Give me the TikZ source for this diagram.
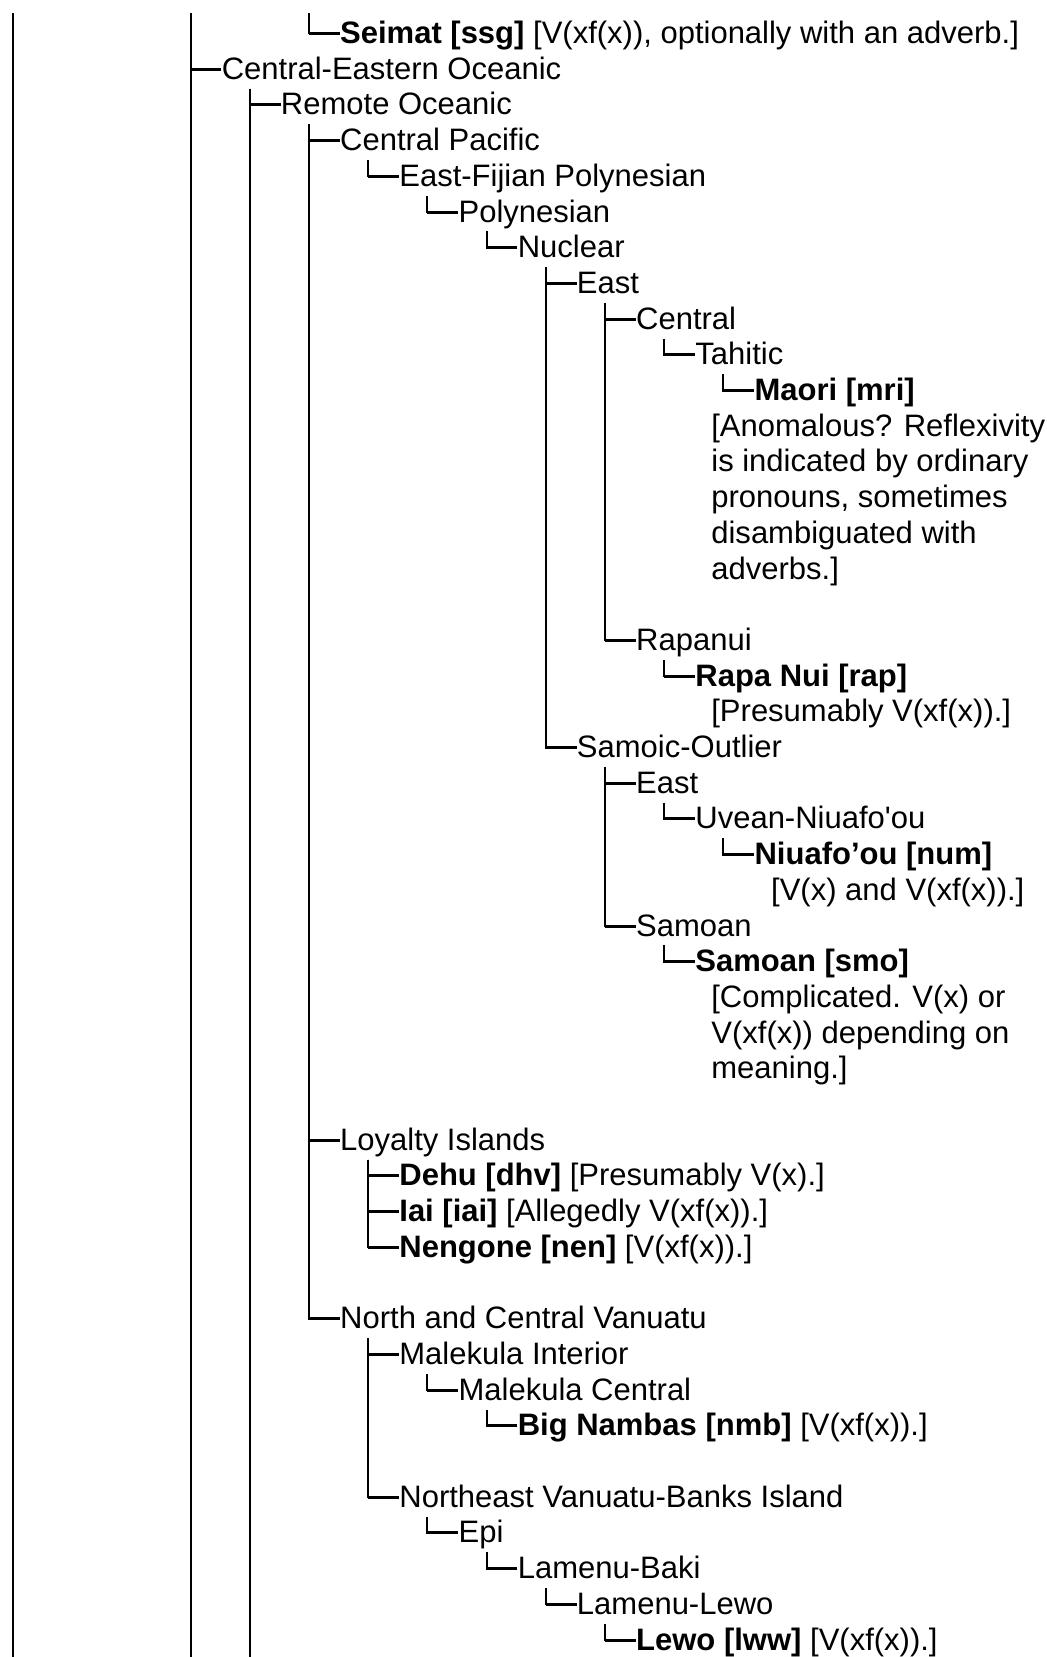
\documentclass[tikz,border=0pt]{standalone}
\usepackage{fontspec}
\setmainfont{Liberation Sans}

\begin{document}
\begin{tikzpicture}[
    x=29.6pt, y=-17.85pt,
    font=\fontsize{15.5pt}{17.85pt}\selectfont,
    lang/.style={anchor=west, inner sep=0pt, text height=14.5pt, text depth=4.5pt},
    line/.style={draw, line width=1pt},
    stub/.style={draw, line width=1.5pt},
    branch/.style={line, to path={(\tikztostart.south -| \tikztotarget.west) ++(-15.4pt,0) |- (\tikztotarget.west)}}
  ]
  \useasboundingbox (-0.2196,-0.9384) rectangle (17.4493,45.476);

  % loose ends above and below the cut
  \coordinate (top0) at (0,-0.574);
  \coordinate (bot0) at (0,45.476);
  \coordinate (top3) at (3,-0.574);
  \coordinate (bot3) at (3,45.476);
  \coordinate (bot4) at (4,45.476);
  \coordinate (top5) at (5,-0.574);

  \node[lang] (seimat) at (5.52,0) {\textbf{Seimat [ssg]} [V(xf(x)), optionally with an adverb.]};
  \node[lang] (ceo) at (3.52,1) {Central-Eastern Oceanic};
  \node[lang] (remote) at (4.52,2) {Remote Oceanic};
  \node[lang] (cpac) at (5.52,3) {Central Pacific};
  \node[lang] (efp) at (6.52,4) {East-Fijian Polynesian};
  \node[lang] (poly) at (7.52,5) {Polynesian};
  \node[lang] (nuclear) at (8.52,6) {Nuclear};
  \node[lang] (east) at (9.52,7) {East};
  \node[lang] (central) at (10.52,8) {Central};
  \node[lang] (tahitic) at (11.52,9) {Tahitic};
  \node[lang] (mri) at (12.52,10) {\textbf{Maori [mri]}};
  \node[lang] (mri1) at (11.79,11) {[Anomalous? Reflexivity};
  \node[lang] (mri2) at (11.79,12) {is indicated by ordinary};
  \node[lang] (mri3) at (11.79,13) {pronouns, sometimes};
  \node[lang] (mri4) at (11.79,14) {disambiguated with};
  \node[lang] (mri5) at (11.79,15) {adverbs.]};
  \node[lang] (rapanui) at (10.52,17) {Rapanui};
  \node[lang] (rap) at (11.52,18) {\textbf{Rapa Nui [rap]}};
  \node[lang] (rapnote) at (11.79,19) {[Presumably V(xf(x)).]};
  \node[lang] (samoic) at (9.52,20) {Samoic-Outlier};
  \node[lang] (seast) at (10.52,21) {East};
  \node[lang] (uvean) at (11.52,22) {Uvean-Niuafo\textquotesingle ou};
  \node[lang] (num) at (12.52,23) {\textbf{Niuafo’ou [num]}};
  \node[lang] (numnote) at (12.80,24) {[V(x) and V(xf(x)).]};
  \node[lang] (samoan) at (10.52,25) {Samoan};
  \node[lang] (smo) at (11.52,26) {\textbf{Samoan [smo]}};
  \node[lang] (smo1) at (11.79,27) {[Complicated. V(x) or};
  \node[lang] (smo2) at (11.79,28) {V(xf(x)) depending on};
  \node[lang] (smo3) at (11.79,29) {meaning.]};
  \node[lang] (loyalty) at (5.52,31) {Loyalty Islands};
  \node[lang] (dhv) at (6.52,32) {\textbf{Dehu [dhv]} [Presumably V(x).]};
  \node[lang] (iai) at (6.52,33) {\textbf{Iai [iai]} [Allegedly V(xf(x)).]};
  \node[lang] (nen) at (6.52,34) {\textbf{Nengone [nen]} [V(xf(x)).]};
  \node[lang] (ncv) at (5.52,36) {North and Central Vanuatu};
  \node[lang] (mint) at (6.52,37) {Malekula Interior};
  \node[lang] (mcen) at (7.52,38) {Malekula Central};
  \node[lang] (nmb) at (8.52,39) {\textbf{Big Nambas [nmb]} [V(xf(x)).]};
  \node[lang] (nevb) at (6.52,41) {Northeast Vanuatu-Banks Island};
  \node[lang] (epi) at (7.52,42) {Epi};
  \node[lang] (lbaki) at (8.52,43) {Lamenu-Baki};
  \node[lang] (llewo) at (9.52,44) {Lamenu-Lewo};
  \node[lang] (lww) at (10.52,45) {\textbf{Lewo [lww]} [V(xf(x)).]};

  % trunks
  \draw[line] (top0) -- (bot0);
  \draw[line] (top3) -- (bot3);
  \draw[line] (top3) |- (ceo.west);
  \draw[line] (top5) |- (seimat.west);
  \draw[line] (ceo.south -| bot4) -- (bot4);

  \draw[branch] (ceo) to (remote);
  \draw[branch] (remote) to (cpac);
  \draw[branch] (remote) to (loyalty);
  \draw[branch] (remote) to (ncv);
  \draw[branch] (cpac) to (efp);
  \draw[branch] (efp) to (poly);
  \draw[branch] (poly) to (nuclear);
  \draw[branch] (nuclear) to (east);
  \draw[branch] (nuclear) to (samoic);
  \draw[branch] (east) to (central);
  \draw[branch] (east) to (rapanui);
  \draw[branch] (central) to (tahitic);
  \draw[branch] (tahitic) to (mri);
  \draw[branch] (rapanui) to (rap);
  \draw[branch] (samoic) to (seast);
  \draw[branch] (samoic) to (samoan);
  \draw[branch] (seast) to (uvean);
  \draw[branch] (uvean) to (num);
  \draw[branch] (samoan) to (smo);
  \draw[branch] (loyalty) to (dhv);
  \draw[branch] (loyalty) to (iai);
  \draw[branch] (loyalty) to (nen);
  \draw[branch] (ncv) to (mint);
  \draw[branch] (ncv) to (nevb);
  \draw[branch] (mint) to (mcen);
  \draw[branch] (mcen) to (nmb);
  \draw[branch] (nevb) to (epi);
  \draw[branch] (epi) to (lbaki);
  \draw[branch] (lbaki) to (llewo);
  \draw[branch] (llewo) to (lww);

  % heavier ticks into the labels
  \foreach \n in {seimat,ceo,remote,cpac,efp,poly,nuclear,east,central,tahitic,mri,
                  rapanui,rap,samoic,seast,uvean,num,samoan,smo,loyalty,dhv,iai,nen,
                  ncv,mint,mcen,nmb,nevb,epi,lbaki,llewo,lww}
    \draw[stub] (\n.west) -- ++(-15.4pt,0);

\end{tikzpicture}
\end{document}
